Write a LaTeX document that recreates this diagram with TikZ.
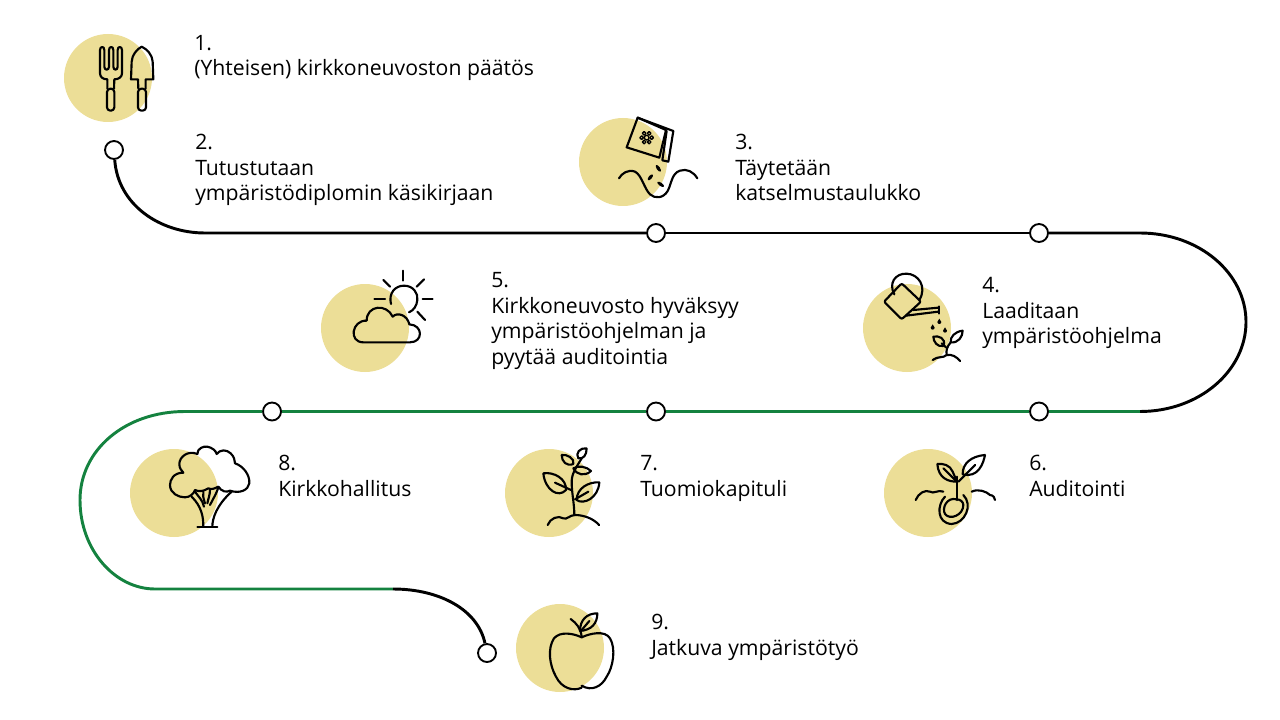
\documentclass[tikz,border=0pt]{standalone}
\usepackage{fontspec}
\setmainfont{Open Sans}
\definecolor{sand}{HTML}{ECDE97}
\definecolor{pathgreen}{HTML}{14823F}
\tikzset{
 x=0.75pt,y=-0.75pt,
 blob/.style={circle,fill=sand,draw=none,minimum size=66pt,inner sep=0pt},
 dot/.style={circle,fill=white,draw=black,line width=1.4pt,minimum size=13.5pt,inner sep=0pt},
 lab/.style={anchor=north west,inner sep=0pt,align=left,font=\fontsize{15.9}{19.2}\selectfont},
 blackline/.style={draw=black,line width=2.2pt},
 greenline/.style={draw=pathgreen,line width=2.2pt},
 icon/.style 2 args={shift={(#1,#2)},x=0.25pt,y=-0.25pt,line width=1.6pt,line cap=round,line join=round,draw=black},
}
\begin{document}
\begin{tikzpicture}
\useasboundingbox (0,0) rectangle (1280,720);
% blobs
\node[blob] (b1) at (108,78) {};
\node[blob] (b3) at (623,162) {};
\node[blob] (b4) at (907,328) {};
\node[blob] (b5) at (365,328) {};
\node[blob] (b6) at (928,493) {};
\node[blob] (b7) at (549,493) {};
\node[blob] (b8) at (174,493) {};
\node[blob] (b9) at (560,648) {};
% dots
\node[dot] (d1) at (114,150) {};
\node[dot] (d2) at (656,233) {};
\node[dot] (d3) at (1039,233) {};
\node[dot] (d4) at (1039,411.5) {};
\node[dot] (d5) at (656,411.5) {};
\node[dot] (d6) at (272,411.5) {};
\node[dot] (d7) at (487,653) {};
\coordinate (p1) at (205,233);
\coordinate (p2) at (1140,233);
\coordinate (p3) at (1140,411.5);
\coordinate (p4) at (185,411.5);
\coordinate (p5) at (155,589);
\coordinate (p6) at (393,589);
% connectors
\draw[blackline] (d1) .. controls (118,205) and (160,233) .. (p1) -- (d2);
\draw[blackline] (d2) -- (d3);
\draw[blackline] (d3) -- (p2) .. controls (1199,233) and (1246,273) .. (1246,322) .. controls (1246,371) and (1199,411.5) .. (p3);
\draw[greenline] (p3) -- (d4);
\draw[greenline] (d4) -- (d5);
\draw[greenline] (d5) -- (d6);
\draw[greenline] (d6) -- (p4) .. controls (125,411.5) and (80,450) .. (80,500) .. controls (80,550) and (115,589) .. (p5) -- (p6);
\draw[blackline] (p6) .. controls (440,589) and (478,610) .. (d7);
% labels
\node[lab] (t1) at (194,35) {1.\\(Yhteisen) kirkkoneuvoston päätös};
\node[lab] (t2) at (195,134) {2.\\Tutustutaan\\ympäristödiplomin käsikirjaan};
\node[lab] (t3) at (735,134) {3.\\Täytetään\\katselmustaulukko};
\node[lab] (t4) at (982,277) {4.\\Laaditaan\\ympäristöohjelma};
\node[lab] (t5) at (491,272) {5.\\Kirkkoneuvosto hyväksyy\\ympäristöohjelman ja\\pyytää auditointia};
\node[lab] (t6) at (1029,455) {6.\\Auditointi};
\node[lab] (t7) at (640,455) {7.\\Tuomiokapituli};
\node[lab] (t8) at (278,455) {8.\\Kirkkohallitus};
\node[lab] (t9) at (651,614) {9.\\Jatkuva ympäristötyö};
% icon 1
\begin{scope}[icon={50}{20}]
\draw (150,160) -- (150,90) .. controls (150,78) and (163,78) .. (163,90) -- (163,140) .. controls (163,152) and (177,152) .. (177,140) -- (177,90) .. controls (177,78) and (190,78) .. (190,90) -- (190,140) .. controls (190,152) and (203,152) .. (203,140) -- (203,90) .. controls (203,78) and (216,78) .. (216,90) -- (216,160) .. controls (216,172) and (205,178) .. (193,178) -- (192,206);
\draw (150,160) .. controls (150,172) and (160,178) .. (172,178) -- (172,206);
\draw[rounded corners=2.5pt] (171,206) rectangle (193,272);
\draw (275,80) .. controls (260,88) and (246,105) .. (245,125) -- (243,178) -- (264,178) -- (265,206);
\draw (275,80) .. controls (292,88) and (307,105) .. (308,125) -- (310,178) -- (287,178) -- (287,206);
\draw[rounded corners=2.5pt] (264,206) rectangle (288,272);
\end{scope}
% icon 3
\begin{scope}[icon={570}{105}]
\draw (203,38) -- (288,75) -- (268,158) -- (170,127) -- cycle;
\draw (203,38) -- (310,78) -- (295,170) -- (277,166) -- (290,78);
\draw[line width=1pt] (230,98) circle (7);
\foreach \a in {0,60,...,300}{\draw[line width=1pt] (230,98) ++(\a:15) circle (5.5);}
\draw (147,220) .. controls (155,205) and (175,192) .. (195,200) .. controls (215,210) and (222,250) .. (240,268) .. controls (255,282) and (280,280) .. (293,258) .. controls (305,235) and (305,205) .. (330,197) .. controls (350,190) and (370,200) .. (382,220);
\fill[rotate around={-55:(265,190)}] (265,190) ellipse (12 and 5);
\fill[rotate around={50:(241,217)}] (241,217) ellipse (11 and 5);
\fill[rotate around={-35:(272,238)}] (272,238) ellipse (12 and 5);
\end{scope}
% icon 4
\begin{scope}[icon={850}{260}]
\draw (133,103) .. controls (115,70) and (135,40) .. (170,41) .. controls (205,42) and (232,80) .. (208,120);
\draw[rounded corners=1.5pt] (155,70) -- (213,125) -- (155,178) -- (102,125) -- cycle;
\draw (168,167) -- (265,155);
\draw (190,150) -- (265,143);
\draw (268,139) -- (268,161);
\fill (268,176) -- (262,186) arc (180:0:6) -- cycle;
\fill (248,193) -- (242,203) arc (180:0:6) -- cycle;
\fill (285,202) -- (279,212) arc (180:0:6) -- cycle;
\draw (248,300) .. controls (262,288) and (280,295) .. (290,285) .. controls (305,282) and (320,290) .. (330,303);
\draw (290,285) .. controls (288,270) and (290,262) .. (302,247);
\draw (288,262) -- (275,250);
\draw (280,258) .. controls (262,262) and (250,245) .. (250,230) .. controls (265,226) and (290,235) .. (280,258);
\draw (302,247) .. controls (300,230) and (315,215) .. (338,212) .. controls (338,230) and (325,250) .. (302,247);
\end{scope}
% icon 5
\begin{scope}[icon={310}{260}]
\draw (243,132) .. controls (235,100) and (255,77) .. (282,77) .. controls (310,77) and (325,100) .. (322,120) .. controls (320,138) and (312,150) .. (297,157);
\draw (280,32) -- (280,62);
\draw (220,60) -- (240,80);
\draw (342,58) -- (320,80);
\draw (193,118) -- (225,118);
\draw (338,118) -- (368,118);
\draw (322,155) -- (345,180);
\draw (160,247) -- (300,247) .. controls (340,247) and (340,195) .. (298,193) .. controls (292,165) and (262,155) .. (248,170) .. controls (230,130) and (170,135) .. (170,182) .. controls (125,180) and (115,247) .. (160,247);
\end{scope}
% icon 6
\begin{scope}[icon={875}{440}]
\draw (187,72) .. controls (205,70) and (225,75) .. (233,95) .. controls (238,108) and (243,115) .. (245,125) .. controls (220,125) and (190,115) .. (187,72);
\draw (205,85) -- (245,125);
\draw (330,45) .. controls (325,70) and (310,115) .. (263,103) .. controls (262,70) and (290,48) .. (330,45);
\draw (300,75) -- (250,125);
\draw (245,110) -- (245,180);
\draw (122,180) .. controls (130,160) and (150,148) .. (165,155) .. controls (175,163) and (190,148) .. (205,155);
\draw (290,155) .. controls (310,145) and (335,155) .. (345,165) .. controls (355,165) and (360,175) .. (360,180);
\draw (210,170) .. controls (185,195) and (185,250) .. (230,252) .. controls (270,250) and (295,195) .. (265,165);
\draw (245,178) .. controls (215,170) and (200,205) .. (210,222) .. controls (225,242) and (265,225) .. (265,195) .. controls (265,185) and (255,178) .. (245,178);
\end{scope}
% icon 7
\begin{scope}[icon={495}{440}]
\draw (158,255) .. controls (165,235) and (190,225) .. (205,235) .. controls (215,240) and (225,225) .. (240,225) .. controls (265,225) and (295,235) .. (312,255);
\draw (238,225) .. controls (238,190) and (230,160) .. (230,125) .. controls (230,100) and (245,80) .. (260,55);
\draw (275,25) .. controls (255,22) and (240,40) .. (250,55) .. controls (265,58) and (275,45) .. (275,25);
\draw (200,45) .. controls (215,42) and (240,55) .. (235,72) .. controls (215,80) and (200,65) .. (200,45);
\draw (235,85) .. controls (250,75) and (275,80) .. (288,93) .. controls (270,110) and (245,105) .. (235,85);
\draw (145,100) .. controls (175,95) and (215,115) .. (213,150) .. controls (190,175) and (150,150) .. (145,100);
\draw (180,128) -- (228,150);
\draw (313,127) .. controls (280,125) and (245,145) .. (245,180) .. controls (265,195) and (310,175) .. (313,127);
\draw (280,155) -- (240,178);
\end{scope}
% icon 8
\begin{scope}[icon={120}{440}]
\draw (232,42) .. controls (232,25) and (250,18) .. (262,20) .. controls (275,22) and (288,32) .. (290,42) .. controls (300,28) and (320,28) .. (332,40) .. controls (342,50) and (345,60) .. (345,70) .. controls (370,78) and (390,105) .. (388,130) .. controls (385,150) and (360,162) .. (330,152) .. controls (320,158) and (305,155) .. (295,140);
\draw (232,42) .. controls (205,30) and (178,50) .. (178,72) .. controls (178,85) and (185,92) .. (190,98) .. controls (160,98) and (150,120) .. (150,135) .. controls (150,160) and (175,172) .. (195,172) .. controls (210,172) and (222,160) .. (225,150) .. controls (235,155) and (250,155) .. (265,145) .. controls (275,150) and (285,145) .. (295,140);
\draw (250,260) .. controls (250,230) and (245,200) .. (215,170);
\draw (277,260) .. controls (277,235) and (290,195) .. (335,155);
\draw (232,262) -- (292,262);
\draw (225,155) .. controls (235,170) and (248,180) .. (252,200);
\draw (255,190) .. controls (250,175) and (248,165) .. (250,155);
\draw (262,190) .. controls (265,175) and (270,165) .. (270,148);
\draw (270,195) .. controls (280,175) and (290,160) .. (295,142);
\end{scope}
% icon 9
\begin{scope}[icon={470}{595}]
\draw (335,278) .. controls (310,290) and (275,280) .. (258,245) .. controls (238,210) and (232,160) .. (252,130) .. controls (270,108) and (310,115) .. (335,127) .. controls (360,115) and (405,105) .. (420,130) .. controls (438,160) and (430,215) .. (410,245) .. controls (395,275) and (365,290) .. (335,272);
\draw (302,72) .. controls (320,85) and (332,100) .. (335,125);
\draw (330,108) .. controls (330,75) and (350,55) .. (382,55) .. controls (382,85) and (365,105) .. (330,108);
\draw (335,105) -- (358,78);
\end{scope}
\end{tikzpicture}
\end{document}
